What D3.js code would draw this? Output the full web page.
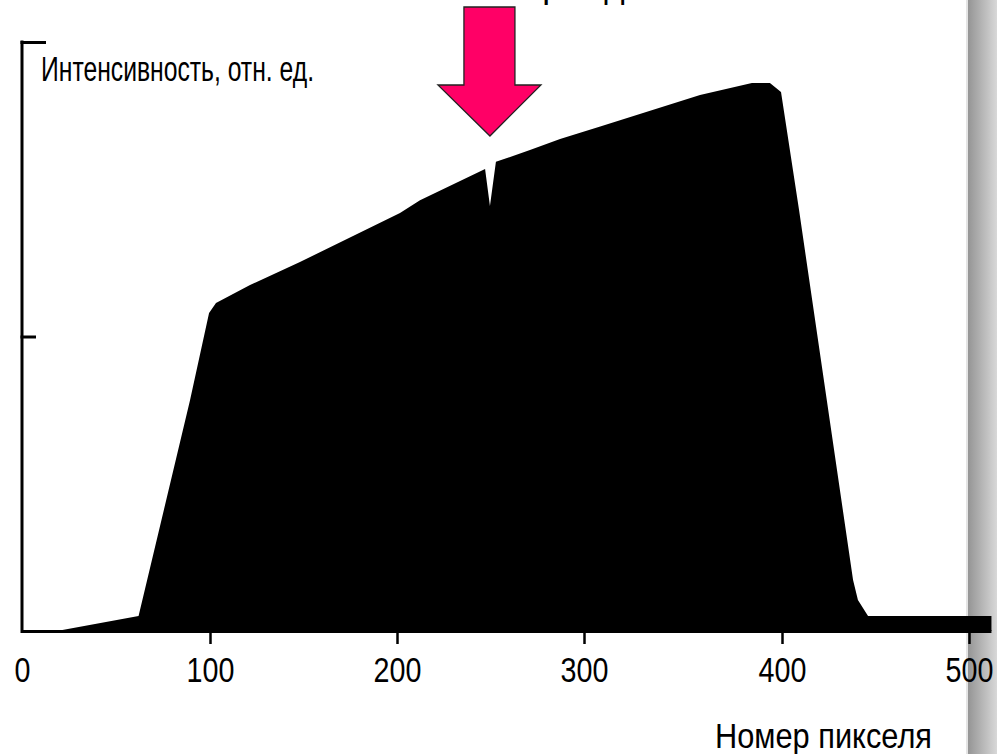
<!DOCTYPE html>
<html>
<head>
<meta charset="utf-8">
<script src="https://cdn.jsdelivr.net/npm/d3@7"></script>
<style>
  html, body { margin: 0; padding: 0; background: #ffffff; }
  svg { display: block; }
  text { font-family: "Liberation Sans", Arial, sans-serif; fill: #000; }
</style>
</head>
<body>
<svg id="chart" width="997" height="754"></svg>
<script>
// Line profile across the sensor: pixel index and relative intensity
const pixel = [0, 18.6, 62, 89.4, 99.5, 103.2, 121.4, 148.1, 201.6, 212.3, 247.1, 249.7, 252.9,
               271.1, 287.2, 308.6, 358.6, 384.8, 393.9, 399.5, 409.1, 438, 440.6, 446, 512];
const intensity = [0, 0, 0.051, 0.784, 1.080, 1.114, 1.175, 1.253, 1.419, 1.463, 1.569, 1.443, 1.593,
                   1.633, 1.671, 1.714, 1.820, 1.861, 1.861, 1.830, 1.430, 0.173, 0.105, 0.051, 0.051];

const xTicks = [0, 100, 200, 300, 400, 500];
const yTicks = [1, 2];

const yTitle = "Интенсивность, отн. ед.";
const xTitle = "Номер пикселя";
const arrowLabel = "Повреждённый пиксель";

const svg = d3.select("#chart");

// Side panel shading at the right edge
const defs = svg.append("defs");
const grad = defs.append("linearGradient").attr("id", "sideShade")
  .attr("x1", "0%").attr("x2", "100%").attr("y1", "0%").attr("y2", "0%");
grad.append("stop").attr("offset", "0%").attr("stop-color", "#959595");
grad.append("stop").attr("offset", "100%").attr("stop-color", "#d8d8d8");
svg.append("rect").attr("x", 966).attr("y", 0).attr("width", 2).attr("height", 754).attr("fill", "#e4e4e4");
svg.append("rect").attr("x", 968).attr("y", 0).attr("width", 29).attr("height", 754).attr("fill", "url(#sideShade)");

// Scales (the axis of the scanned plot is slightly uneven, so the x scale is piecewise)
const x = d3.scaleLinear()
  .domain([0, 100, 200, 300, 400, 500])
  .range([22, 210, 397, 584, 782, 969]);
const y = d3.scaleLinear().domain([0, 2]).range([631, 42]);

const data = pixel.map((p, i) => ({ p, v: intensity[i] }));

// Filled intensity profile
const area = d3.area()
  .x(d => x(d.p))
  .y0(y(0))
  .y1(d => y(d.v));
svg.append("path").datum(data).attr("d", area).attr("fill", "#000");

// X axis
const xAxis = d3.axisBottom(x).tickValues(xTicks).tickSize(13).tickSizeOuter(0).tickPadding(13);
const gx = svg.append("g").attr("transform", `translate(0,${y(0)})`).call(xAxis);
gx.select(".domain").remove();
gx.selectAll(".tick line").attr("stroke", "#000").attr("stroke-width", 2.5)
  .filter(d => d === 0).remove();
gx.selectAll(".tick text")
  .style("font-size", "35px")
  .style("font-family", '"Liberation Sans", Arial, sans-serif')
  .attr("fill", "#000")
  .attr("transform", "scale(0.82,1)");
svg.append("line")
  .attr("x1", x(0)).attr("x2", x(d3.max(pixel)))
  .attr("y1", y(0) + 0.5).attr("y2", y(0) + 0.5)
  .attr("stroke", "#000").attr("stroke-width", 3);

// Y axis (unlabelled ticks)
const yAxis = d3.axisRight(y).tickValues(yTicks).tickSize(14).tickSizeOuter(0).tickFormat("");
const gy = svg.append("g").attr("transform", `translate(${x(0)},0)`).call(yAxis);
gy.select(".domain").attr("stroke", "#000").attr("stroke-width", 3)
  .attr("d", `M0,${y(0) + 2}V${y(2) - 1.5}`);
gy.selectAll(".tick line").attr("stroke", "#000").attr("stroke-width", 3)
  .attr("x1", -1.5)
  .attr("x2", d => d === 2 ? 24 : 14);

// Axis titles
svg.append("text").attr("x", 41).attr("y", 81)
  .attr("textLength", 273).attr("lengthAdjust", "spacingAndGlyphs")
  .style("font-size", "35px").text(yTitle);
svg.append("text").attr("x", 715).attr("y", 748)
  .attr("textLength", 217).attr("lengthAdjust", "spacingAndGlyphs")
  .style("font-size", "35px").text(xTitle);

// Annotation pointing at the dead pixel
svg.append("text").attr("x", 479).attr("y", -2)
  .style("font-size", "35px").text(arrowLabel);

const tipX = x(249.7), tipY = 136;
const arrowPts = [
  [tipX - 26, 7], [tipX + 25, 7], [tipX + 25, 85], [tipX + 51, 85],
  [tipX, tipY], [tipX - 52, 85], [tipX - 26, 85]
];
svg.append("path")
  .attr("d", d3.line()(arrowPts) + "Z")
  .attr("fill", "#ff0066")
  .attr("stroke", "#222")
  .attr("stroke-width", 1.3)
  .attr("stroke-linejoin", "miter");
</script>
</body>
</html>
